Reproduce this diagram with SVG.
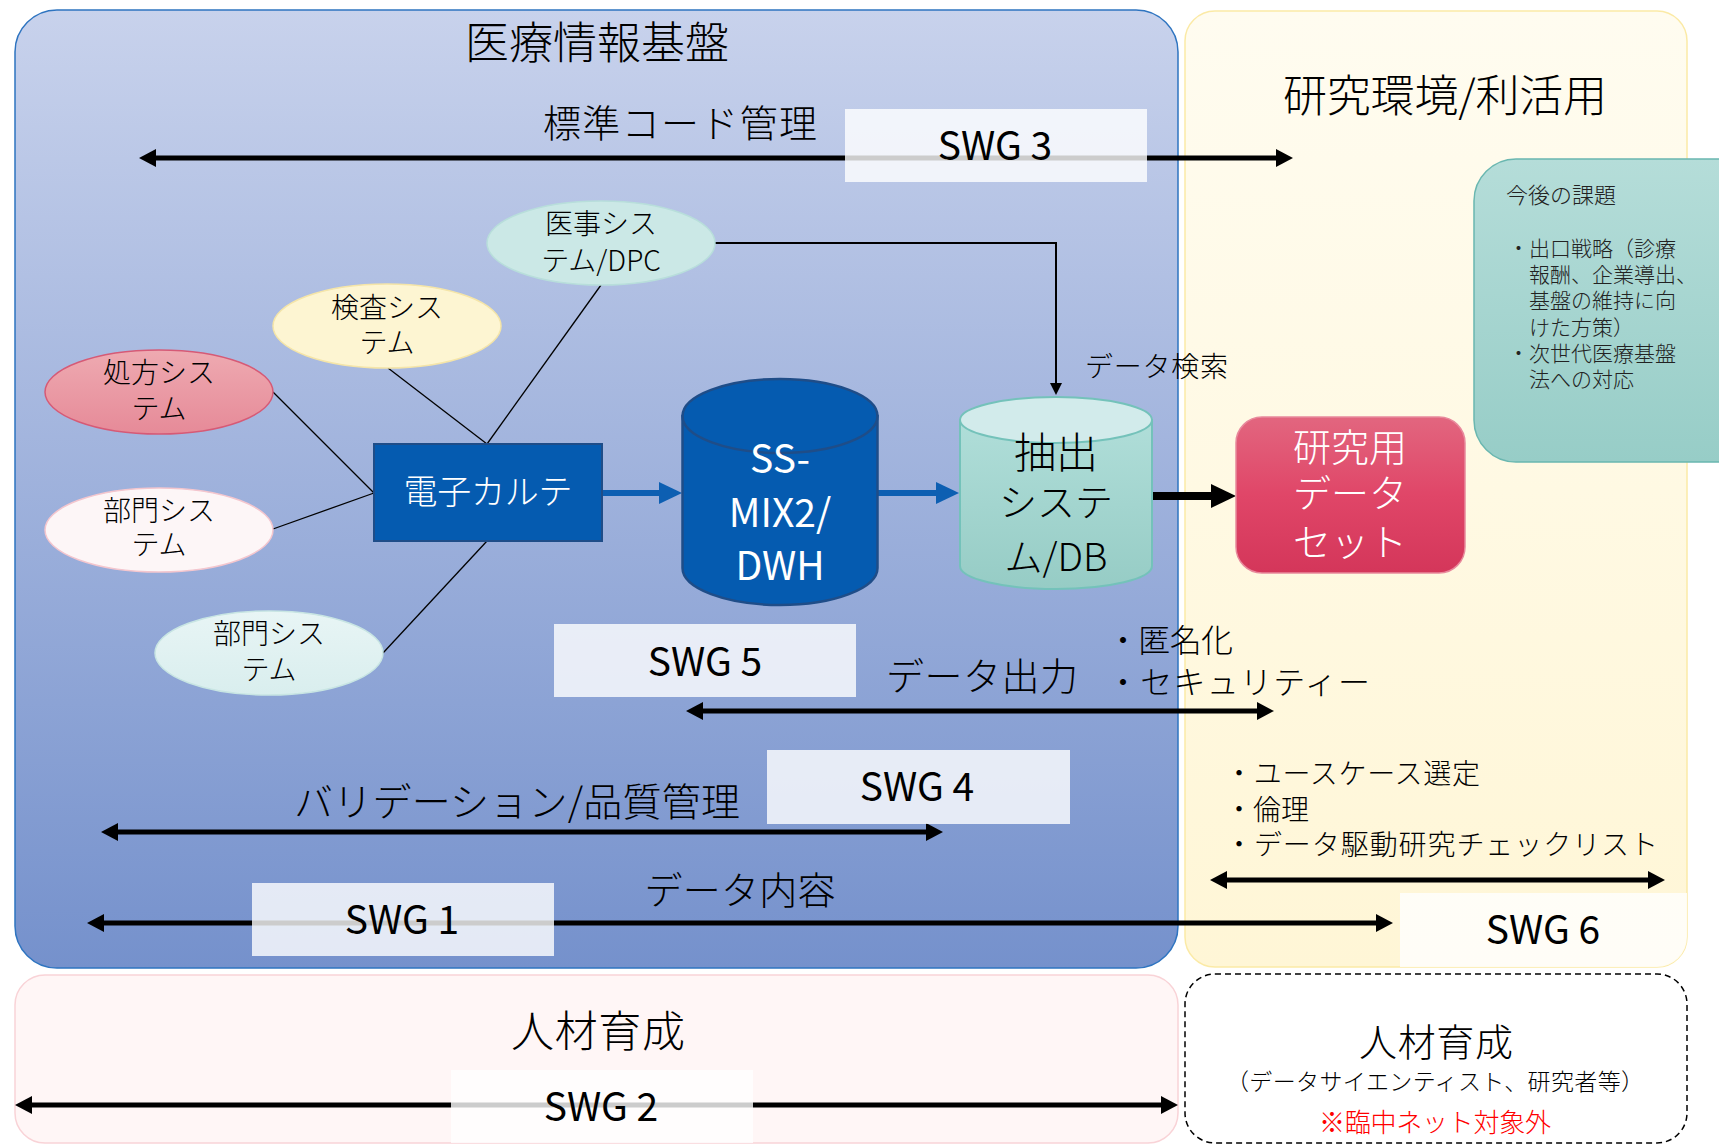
<svg xmlns="http://www.w3.org/2000/svg" width="1719" height="1145" viewBox="0 0 1719 1145">
<defs>
<linearGradient id="gBlue" x1="0" y1="0" x2="0" y2="1"><stop offset="0" stop-color="#c8d2ec"/><stop offset="1" stop-color="#7591cc"/></linearGradient>
<linearGradient id="gYel" x1="0" y1="0" x2="0" y2="1"><stop offset="0" stop-color="#fffcf0"/><stop offset="1" stop-color="#fff6d6"/></linearGradient>
<linearGradient id="gTeal" x1="0" y1="0" x2="0" y2="1"><stop offset="0" stop-color="#b5ddd9"/><stop offset="1" stop-color="#97cdc7"/></linearGradient>
<linearGradient id="gCyl" x1="0" y1="0" x2="0" y2="1"><stop offset="0" stop-color="#b0ded9"/><stop offset="1" stop-color="#96ccc5"/></linearGradient>
<linearGradient id="gRed" x1="0" y1="0" x2="0" y2="1"><stop offset="0" stop-color="#e2667f"/><stop offset="0.5" stop-color="#e04668"/><stop offset="1" stop-color="#d4365a"/></linearGradient>
<linearGradient id="gPink" x1="0" y1="0" x2="0" y2="1"><stop offset="0" stop-color="#eeaab1"/><stop offset="1" stop-color="#e68a98"/></linearGradient>
<linearGradient id="gLT" x1="0" y1="0" x2="0" y2="1"><stop offset="0" stop-color="#e8f5f5"/><stop offset="1" stop-color="#d9eeee"/></linearGradient>
<marker id="ah" markerUnits="userSpaceOnUse" markerWidth="17" markerHeight="18" refX="11" refY="9" orient="auto-start-reverse"><path d="M0,0 L17,9 L0,18 Z" fill="#000"/></marker>
<marker id="ahb" markerUnits="userSpaceOnUse" markerWidth="23" markerHeight="22" refX="15" refY="11" orient="auto"><path d="M0,0 L23,11 L0,22 Z" fill="#0d5fb2"/></marker>
<marker id="ahk" markerUnits="userSpaceOnUse" markerWidth="25" markerHeight="24" refX="15" refY="12" orient="auto"><path d="M0,0 L25,12 L0,24 Z" fill="#000"/></marker>
<marker id="aht" markerUnits="userSpaceOnUse" markerWidth="12" markerHeight="12" refX="9" refY="6" orient="auto"><path d="M0,0 L12,6 L0,12 Z" fill="#000"/></marker>
<style>
.t{font-family:"Noto Sans CJK JP","Noto Sans",sans-serif;font-weight:300;fill:#000}
.c{text-anchor:middle}
.sw{font-weight:400;font-size:39px}
.swg{fill:#fff;fill-opacity:0.8}
.ar{stroke:#000;stroke-width:5;fill:none;marker-start:url(#ah);marker-end:url(#ah)}
.ln{stroke:#000;stroke-width:1.3;fill:none}
.el{font-size:28px}
</style>
</defs>

<g id="bg-medical">
<rect x="15" y="10" width="1163" height="958" rx="42" fill="url(#gBlue)" stroke="#2e74c0" stroke-width="1.5"/>
<text class="t c" x="597" y="59" font-size="44">医療情報基盤</text>
</g>
<g id="bg-research">
<rect x="1185" y="11" width="502" height="956" rx="30" fill="url(#gYel)" stroke="#fbeaa6" stroke-width="1.5"/>
<text class="t c" x="1445" y="112" font-size="44" textLength="324" lengthAdjust="spacing">研究環境/利活用</text>
</g>
<g id="bg-hr">
<rect x="15" y="975" width="1163" height="168" rx="30" fill="#fff6f6" stroke="#f9d3d7" stroke-width="1.5"/>
<text class="t c" x="598" y="1047" font-size="43" textLength="174" lengthAdjust="spacing">人材育成</text>
</g>
<g id="bg-hr2">
<rect x="1185" y="974" width="502" height="169" rx="30" fill="#fff" stroke="#000" stroke-width="1.5" stroke-dasharray="6 4"/>
<text class="t c" x="1436" y="1056" font-size="38" textLength="154" lengthAdjust="spacing">人材育成</text>
<text class="t c" x="1435" y="1090" font-size="23" textLength="418" lengthAdjust="spacing">（データサイエンティスト、研究者等）</text>
<text class="t c" x="1435" y="1132" font-size="26" style="fill:#ff0000" textLength="232" lengthAdjust="spacing">※臨中ネット対象外</text>
</g>

<g id="connectors">
<line class="ar" x1="145" y1="158" x2="1287" y2="158"/>
<line class="ar" x1="692" y1="711" x2="1268" y2="711"/>
<line class="ar" x1="107" y1="832" x2="937" y2="832"/>
<line class="ar" x1="93" y1="923" x2="1387" y2="923"/>
<line class="ar" x1="21" y1="1105" x2="1172" y2="1105"/>
<line class="ar" x1="1216" y1="880" x2="1659" y2="880"/>
<line class="ln" x1="273" y1="392" x2="374" y2="493"/>
<line class="ln" x1="273" y1="529" x2="374" y2="493"/>
<line class="ln" x1="388" y1="368" x2="487" y2="444"/>
<line class="ln" x1="601" y1="285" x2="487" y2="444"/>
<line class="ln" x1="383" y1="653" x2="487" y2="541"/>
<line x1="602" y1="493" x2="674" y2="493" stroke="#0d5fb2" stroke-width="6" marker-end="url(#ahb)"/>
<line x1="878" y1="493" x2="951" y2="493" stroke="#0d5fb2" stroke-width="6" marker-end="url(#ahb)"/>
<path d="M715 243 H1056 V392" stroke="#000" stroke-width="2" fill="none" marker-end="url(#aht)"/>
<line x1="1152" y1="496" x2="1226" y2="496" stroke="#000" stroke-width="8" marker-end="url(#ahk)"/>
</g>

<g id="swg3"><rect class="swg" x="845" y="109" width="302" height="73"/><text class="t c sw" x="995" y="160">SWG 3</text></g>
<g id="label-code"><text class="t c" x="680" y="137" font-size="38" textLength="274" lengthAdjust="spacing">標準コード管理</text></g>
<g id="swg5"><rect class="swg" x="554" y="624" width="302" height="73"/><text class="t c sw" x="705" y="676">SWG 5</text></g>
<g id="swg4"><rect class="swg" x="767" y="750" width="303" height="74"/><text class="t c sw" x="917" y="801">SWG 4</text></g>
<g id="swg1"><rect class="swg" x="252" y="883" width="302" height="73"/><text class="t c sw" x="402" y="934">SWG 1</text></g>
<g id="swg6"><path class="swg" d="M1400 893 H1687 V937 A30 30 0 0 1 1657 967 H1400 Z"/><text class="t c sw" x="1543" y="944">SWG 6</text></g>
<g id="swg2"><rect class="swg" x="451" y="1070" width="302" height="73"/><text class="t c sw" x="601" y="1121">SWG 2</text></g>

<g id="labels">
<text class="t" x="1085" y="377" font-size="28" textLength="143" lengthAdjust="spacing">データ検索</text>
<text class="t c" x="982" y="690" font-size="38" textLength="192" lengthAdjust="spacing">データ出力</text>
<text class="t" x="1107" y="652" font-size="32" textLength="126" lengthAdjust="spacing">・匿名化</text>
<text class="t" x="1107" y="694" font-size="32" textLength="263" lengthAdjust="spacing">・セキュリティー</text>
<text class="t c" x="517" y="816" font-size="39" textLength="446" lengthAdjust="spacing">バリデーション/品質管理</text>
<text class="t c" x="740" y="904" font-size="38" textLength="191" lengthAdjust="spacing">データ内容</text>
<text class="t" x="1225" y="784" font-size="28" textLength="255" lengthAdjust="spacing">・ユースケース選定</text>
<text class="t" x="1225" y="820" font-size="28">・倫理</text>
<text class="t" x="1225" y="855" font-size="28" textLength="433" lengthAdjust="spacing">・データ駆動研究チェックリスト</text>
</g>

<g id="issues">
<rect x="1474" y="159" width="290" height="303" rx="42" fill="url(#gTeal)" stroke="#6ab7b0" stroke-width="1.5"/>
<g class="t" font-size="21" style="fill:#222">
<text x="1506" y="203" font-size="22">今後の課題</text>
<text x="1508" y="256">・出口戦略（診療</text>
<text x="1529" y="282">報酬、企業導出、</text>
<text x="1529" y="308">基盤の維持に向</text>
<text x="1529" y="335">けた方策）</text>
<text x="1508" y="361">・次世代医療基盤</text>
<text x="1529" y="387">法への対応</text>
</g>
</g>

<g id="iji">
<ellipse cx="601" cy="243" rx="114" ry="42" fill="#cbe8e6" stroke="#b8dedb" stroke-width="1.5"/>
<text class="t c el" x="601" y="234">医事シス</text>
<text class="t c el" x="601" y="271">テム/DPC</text>
</g>
<g id="kensa">
<ellipse cx="387" cy="326" rx="114" ry="42" fill="#fdf5d2" stroke="#f5e5a8" stroke-width="1.5"/>
<text class="t c el" x="387" y="318">検査シス</text>
<text class="t c el" x="387" y="353">テム</text>
</g>
<g id="shohou">
<ellipse cx="159" cy="392" rx="114" ry="42" fill="url(#gPink)" stroke="#d65a76" stroke-width="1.5"/>
<text class="t c el" x="159" y="383">処方シス</text>
<text class="t c el" x="159" y="419">テム</text>
</g>
<g id="bumon1">
<ellipse cx="159" cy="530" rx="114" ry="42" fill="#fdf6f7" stroke="#f4c6ce" stroke-width="1.5"/>
<text class="t c el" x="159" y="521">部門シス</text>
<text class="t c el" x="159" y="555">テム</text>
</g>
<g id="bumon2">
<ellipse cx="269" cy="653" rx="114" ry="42" fill="url(#gLT)" stroke="#c8e5e3" stroke-width="1.5"/>
<text class="t c el" x="269" y="644">部門シス</text>
<text class="t c el" x="269" y="680">テム</text>
</g>
<g id="emr">
<rect x="374" y="444" width="228" height="97" fill="#055bb0" stroke="#1f4d88" stroke-width="2"/>
<text class="t c" x="488" y="504" font-size="34" style="fill:#fff" textLength="169" lengthAdjust="spacing">電子カルテ</text>
</g>
<g id="ssmix">
<path d="M682.5 416 V568 A97.5 37 0 0 0 877.5 568 V416 Z" fill="#055bb0" stroke="#1f4d88" stroke-width="2.5"/>
<ellipse cx="780" cy="416" rx="97.5" ry="37" fill="#055bb0" stroke="#1f4d88" stroke-width="2.5"/>
<g class="t c" font-size="39" style="fill:#fff;font-weight:400">
<text x="780" y="473">SS-</text>
<text x="780" y="527">MIX2/</text>
<text x="780" y="580">DWH</text>
</g>
</g>
<g id="extract">
<path d="M960 420 V566 A96 23 0 0 0 1152 566 V420 Z" fill="url(#gCyl)" stroke="#74c2ba" stroke-width="2"/>
<ellipse cx="1056" cy="420" rx="96" ry="23" fill="#d2ebeb" stroke="#74c2ba" stroke-width="2"/>
<text class="t c" x="1056" y="468" font-size="42">抽出</text>
<text class="t c" x="1056" y="516" font-size="38">システ</text>
<text class="t c" x="1056" y="571" font-size="38">ム/DB</text>
</g>
<g id="dataset">
<rect x="1236" y="417" width="229" height="156" rx="26" fill="url(#gRed)" stroke="#e8899c" stroke-width="1.5"/>
<g class="t c" font-size="38" style="fill:#fff">
<text x="1350" y="461">研究用</text>
<text x="1350" y="507">データ</text>
<text x="1350" y="556">セット</text>
</g>
</g>
</svg>
